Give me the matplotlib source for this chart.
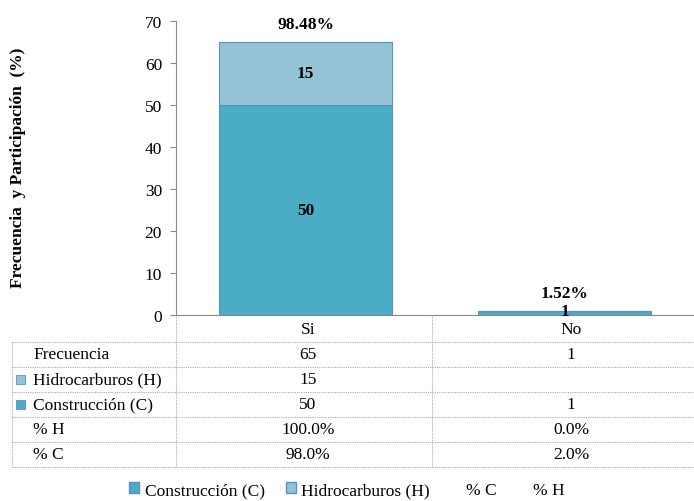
import matplotlib
matplotlib.use("Agg")
import matplotlib.pyplot as plt
from matplotlib.patches import Patch
from matplotlib.lines import Line2D

plt.rcParams['font.family'] = ['Liberation Serif', 'DejaVu Serif']

categories = ["Si", "No"]
construccion = [50, 1]
hidrocarburos = [15, 0]
frecuencia = [65, 1]
pct_total = ["98.48%", "1.52%"]
pct_h = ["100.0%", "0.0%"]
pct_c = ["98.0%", "2.0%"]

col_c = "#4BACC6"
col_h = "#93C3D5"

W, H = 694, 502
fig = plt.figure(figsize=(W / 100, H / 100), dpi=100)

# chart area in pixel coords
x0, x1, ytop, ybot = 176, 694, 22, 316
ax = fig.add_axes([x0 / W, 1 - ybot / H, (x1 - x0) / W, (ybot - ytop) / H])
xs = range(len(categories))
ax.bar(xs, construccion, width=0.67, color=col_c, edgecolor="#5B8FC9", linewidth=0.8)
ax.bar(xs, hidrocarburos, bottom=construccion, width=0.67, color=col_h,
       edgecolor="#5B8FC9", linewidth=0.8)
ax.set_xlim(-0.5, 1.5)
ax.set_ylim(0, 70)
ax.set_yticks(range(0, 71, 10))
ax.set_xticks([])
for s in ["top", "right"]:
    ax.spines[s].set_visible(False)
ax.spines["left"].set_color("#888888")
ax.spines["bottom"].set_color("#888888")
ax.tick_params(axis="y", labelsize=12.5, length=4, color="#888888", pad=6)

for i in xs:
    if construccion[i] > 1:
        ax.text(i, construccion[i] / 2, str(construccion[i]),
                ha="center", va="center", fontsize=12.5, fontweight="bold")
    else:
        ax.text(i, construccion[i], str(construccion[i]),
                ha="center", va="center", fontsize=12.5, fontweight="bold")
    if hidrocarburos[i]:
        ax.text(i, construccion[i] + hidrocarburos[i] / 2, str(hidrocarburos[i]),
                ha="center", va="center", fontsize=12.5, fontweight="bold")
    top = construccion[i] + hidrocarburos[i]
    ax.text(i, top + 2.3, pct_total[i], ha="center", va="bottom",
            fontsize=12.5, fontweight="bold")

fig.text(18 / W, 1 - 168 / H, "Frecuencia  y Participación  (%)", rotation=90,
         ha="center", va="center", fontsize=12.5, fontweight="bold")

# data table below chart
tb = fig.add_axes([0, 0, 1, 1])
tb.set_xlim(0, W)
tb.set_ylim(H, 0)
tb.axis("off")
grid = dict(color="#AAAAAA", linewidth=0.8, linestyle=(0, (1, 1)))
rows_y = [343, 368, 393, 418, 443, 468]
for y in rows_y:
    tb.plot([12, W], [y, y], **grid)
tb.plot([12, 12], [343, 468], **grid)
tb.plot([176, 176], [316, 468], **grid)
tb.plot([432, 432], [316, 468], **grid)

col_x = [308, 571]
for j, c in enumerate(categories):
    tb.text(col_x[j], 330, c, ha="center", va="center", fontsize=12.5)

row_labels = ["Frecuencia", "Hidrocarburos (H)", "Construcción (C)", "% H", "% C"]
row_vals = [frecuencia, [hidrocarburos[0], ""], construccion, pct_h, pct_c]
row_keys = [None, col_h, col_c, None, None]
for r, (lab, vals, key) in enumerate(zip(row_labels, row_vals, row_keys)):
    yc = (rows_y[r] + rows_y[r + 1]) / 2
    tb.text(33, yc, lab, ha="left", va="center", fontsize=12.5)
    if key:
        tb.add_patch(plt.Rectangle((16, yc - 4.5), 9, 9, facecolor=key,
                                   edgecolor="#5B8FC9", linewidth=0.6))
    for j, v in enumerate(vals):
        tb.text(col_x[j], yc, str(v), ha="center", va="center", fontsize=12.5)

handles = [Patch(facecolor=col_c, edgecolor="#5B8FC9"),
           Patch(facecolor=col_h, edgecolor="#5B8FC9"),
           Line2D([], [], color="none"), Line2D([], [], color="none")]
fig.legend(handles, ["Construcción (C)", "Hidrocarburos (H)", "% C", "% H"],
           loc="center", bbox_to_anchor=(347 / W, 1 - 491 / H), ncol=4,
           frameon=False, fontsize=12.5, handlelength=0.6, handleheight=0.6,
           handletextpad=0.3, columnspacing=1.2)

fig.savefig("out.png", dpi=100)
